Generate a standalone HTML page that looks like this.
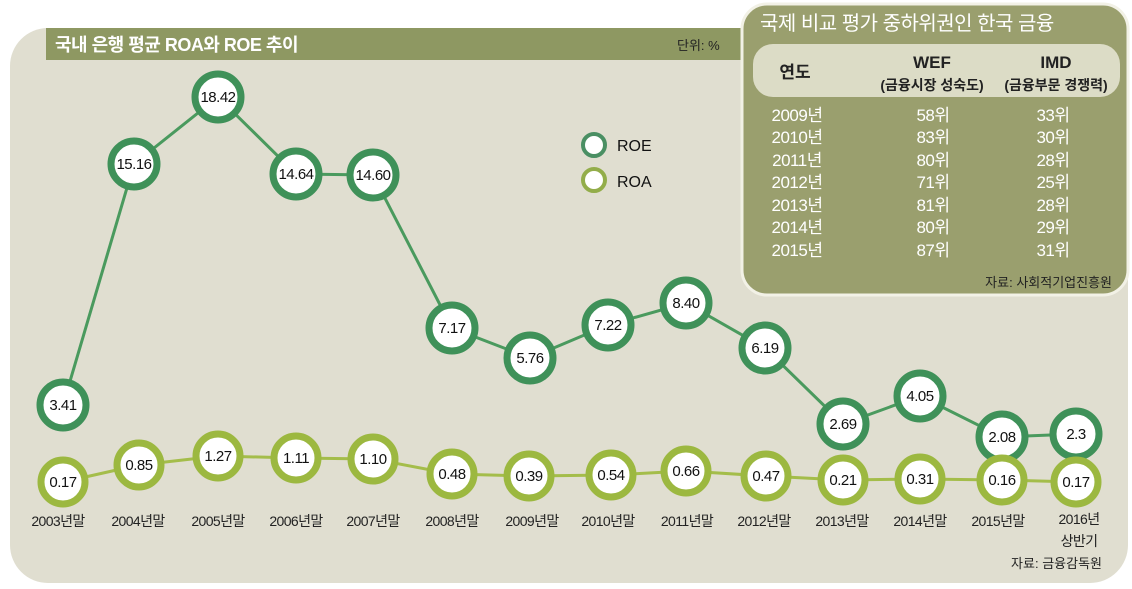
<!DOCTYPE html>
<html><head><meta charset="utf-8"><style>
body{margin:0;background:#fff;}
svg{display:block;font-family:"Liberation Sans","Noto Sans CJK KR",sans-serif;}
</style></head><body>
<svg width="1132" height="589" viewBox="0 0 1132 589">
<rect x="10" y="28" width="1118" height="555" rx="38" fill="#e0ded0"/>
<rect x="46" y="28" width="700" height="32" fill="#8e9862"/>
<text x="55" y="51" font-size="18" fill="#fff" font-weight="bold" letter-spacing="-0.5">국내 은행 평균 ROA와 ROE 추이</text>
<text x="677" y="50" font-size="13" fill="#222">단위: %</text>
<g stroke-width="3" fill="none">
<polyline stroke="#4a9a5e" points="63,405 134,164 218,97 296,174 373,175 452,328 530,358 608,325 686,303 765,348 843,424 920,396 1002,437 1076,434"/>
<polyline stroke="#a4bd4a" points="63,482 139,465 218,456 296,458 373,459 452,474 529,476 611,475 686,471 766,476 843,480 920,479 1002,480 1076,482"/>
</g>
<g font-size="15" text-anchor="middle" fill="#111" letter-spacing="-0.5">
<g fill="#fff" stroke="#3f9159" stroke-width="7">
<circle cx="63" cy="405" r="23"/><circle cx="134" cy="164" r="23"/><circle cx="218" cy="97" r="23"/><circle cx="296" cy="174" r="23"/><circle cx="373" cy="175" r="23"/><circle cx="452" cy="328" r="23"/><circle cx="530" cy="358" r="23"/><circle cx="608" cy="325" r="23"/><circle cx="686" cy="303" r="23"/><circle cx="765" cy="348" r="23"/><circle cx="843" cy="424" r="23"/><circle cx="920" cy="396" r="23"/><circle cx="1002" cy="437" r="23"/><circle cx="1076" cy="434" r="23"/>
</g>
<text x="63" y="410">3.41</text><text x="134" y="169">15.16</text><text x="218" y="102">18.42</text><text x="296" y="179">14.64</text><text x="373" y="180">14.60</text><text x="452" y="333">7.17</text><text x="530" y="363">5.76</text><text x="608" y="330">7.22</text><text x="686" y="308">8.40</text><text x="765" y="353">6.19</text><text x="843" y="429">2.69</text><text x="920" y="401">4.05</text><text x="1002" y="442">2.08</text><text x="1076" y="439">2.3</text>
<g fill="#fff" stroke="#9cb840" stroke-width="7">
<circle cx="63" cy="482" r="22"/><circle cx="139" cy="465" r="22"/><circle cx="218" cy="456" r="22"/><circle cx="296" cy="458" r="22"/><circle cx="373" cy="459" r="22"/><circle cx="452" cy="474" r="22"/><circle cx="529" cy="476" r="22"/><circle cx="611" cy="475" r="22"/><circle cx="686" cy="471" r="22"/><circle cx="766" cy="476" r="22"/><circle cx="843" cy="480" r="22"/><circle cx="920" cy="479" r="22"/><circle cx="1002" cy="480" r="22"/><circle cx="1076" cy="482" r="22"/>
</g>
<text x="63" y="487">0.17</text><text x="139" y="470">0.85</text><text x="218" y="461">1.27</text><text x="296" y="463">1.11</text><text x="373" y="464">1.10</text><text x="452" y="479">0.48</text><text x="529" y="481">0.39</text><text x="611" y="480">0.54</text><text x="686" y="476">0.66</text><text x="766" y="481">0.47</text><text x="843" y="485">0.21</text><text x="920" y="484">0.31</text><text x="1002" y="485">0.16</text><text x="1076" y="487">0.17</text>
</g>
<g font-size="14" text-anchor="middle" fill="#222" letter-spacing="-0.6">
<text x="58" y="526">2003년말</text><text x="138" y="526">2004년말</text><text x="218" y="526">2005년말</text><text x="296" y="526">2006년말</text><text x="373" y="526">2007년말</text><text x="452" y="526">2008년말</text><text x="532" y="526">2009년말</text><text x="608" y="526">2010년말</text><text x="687" y="526">2011년말</text><text x="764" y="526">2012년말</text><text x="842" y="526">2013년말</text><text x="920" y="526">2014년말</text><text x="998" y="526">2015년말</text><text x="1079" y="524">2016년</text><text x="1079" y="546">상반기</text>
</g>
<text x="1102" y="568" font-size="13" text-anchor="end" fill="#222">자료: 금융감독원</text>
<circle cx="594" cy="145" r="11" fill="#fff" stroke="#4a8f63" stroke-width="4"/>
<circle cx="594" cy="180" r="11" fill="#fff" stroke="#93ad4a" stroke-width="4"/>
<text x="617" y="151" font-size="16" fill="#111">ROE</text>
<text x="617" y="187" font-size="16" fill="#111">ROA</text>
<rect x="742" y="4" width="386" height="291" rx="25" fill="#9a9f6e" stroke="#f2f1e6" stroke-width="3"/>
<text x="760" y="30" font-size="20" fill="#fff" letter-spacing="-0.5">국제 비교 평가 중하위권인 한국 금융</text>
<rect x="753" y="44" width="367" height="53" rx="20" fill="#dcdcc6"/>
<g font-size="17" fill="#222" text-anchor="middle" font-weight="bold">
<text x="795" y="78">연도</text><text x="932" y="68">WEF</text><text x="1056" y="68">IMD</text>
</g>
<g font-size="14" fill="#222" text-anchor="middle" font-weight="bold">
<text x="932" y="90">(금융시장 성숙도)</text><text x="1056" y="90">(금융부문 경쟁력)</text>
</g>
<g font-size="17" fill="#fff" text-anchor="middle" letter-spacing="-0.5">
<text x="797" y="121">2009년</text><text x="933" y="121">58위</text><text x="1053" y="121">33위</text>
<text x="797" y="143">2010년</text><text x="933" y="143">83위</text><text x="1053" y="143">30위</text>
<text x="797" y="166">2011년</text><text x="933" y="166">80위</text><text x="1053" y="166">28위</text>
<text x="797" y="188">2012년</text><text x="933" y="188">71위</text><text x="1053" y="188">25위</text>
<text x="797" y="211">2013년</text><text x="933" y="211">81위</text><text x="1053" y="211">28위</text>
<text x="797" y="233">2014년</text><text x="933" y="233">80위</text><text x="1053" y="233">29위</text>
<text x="797" y="256">2015년</text><text x="933" y="256">87위</text><text x="1053" y="256">31위</text>
</g>
<text x="1112" y="287" font-size="13" text-anchor="end" fill="#222">자료: 사회적기업진흥원</text>
</svg>
</body></html>
